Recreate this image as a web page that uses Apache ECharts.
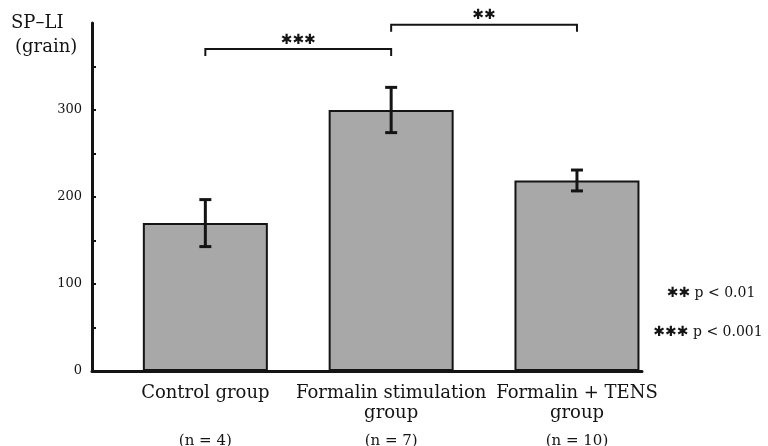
<!DOCTYPE html>
<html>
<head>
<meta charset="utf-8">
<script src="https://cdn.jsdelivr.net/npm/echarts@6/dist/echarts.min.js"></script>
<style>
html, body { margin: 0; padding: 0; background: #ffffff; }
#chart { width: 768px; height: 446px; }
</style>
</head>
<body>
<div id="chart"></div>
<script>
// ---- data ----
const categories = ['Control group', 'Formalin stimulation\ngroup', 'Formalin + TENS\ngroup'];
const sampleSizes = ['(n = 4)', '(n = 7)', '(n = 10)'];
const means = [170, 300, 219];
const errors = [27, 26, 12];
const yLabelValues = [0, 100, 200, 300];
const yTickValues = [0, 50, 100, 150, 200, 250, 300, 350];
const comparisons = [[0, 1, '✱✱✱'], [1, 2, '✱✱']];
const legendMarks = ['✱✱', '✱✱✱'];
const legendTexts = ['p < 0.01', 'p < 0.001'];
const axisName = ['SP–LI', '(grain)'];

// ---- layout ----
const X0 = 0.61;
const XMAX = 2.96;
const bracketLevels = [370, 398];
const bracketDrop = 8;
const INK = '#141414';
const SERIF = 'DejaVu Serif';
const STAR = 'DejaVu Sans';

const chart = echarts.init(document.getElementById('chart'));

const barData = means.map((v, i) => [i + X0, v]);
const errData = means.map((v, i) => [i + X0, v, errors[i]]);

function catLabel(v) {
  const i = Math.round(v - X0);
  if (i < 0 || i >= categories.length) return '';
  const lines = categories[i].split('\n');
  let s = lines.map(l => '{a|' + l + '}').join('\n');
  if (lines.length === 1) s += '\n{a| }';
  return s + '\n{b|' + sampleSizes[i] + '}';
}

const option = {
  animation: false,
  backgroundColor: '#ffffff',
  grid: { left: 92, right: 126, top: 23, bottom: 75, containLabel: false, outerBoundsMode: 'none' },
  xAxis: {
    type: 'value',
    min: 0,
    max: XMAX,
    axisLine: { show: true, lineStyle: { color: INK, width: 3 } },
    axisTick: { show: false },
    splitLine: { show: false },
    axisLabel: {
      customValues: means.map((v, i) => i + X0),
      margin: 12,
      formatter: catLabel,
      rich: {
        a: { fontFamily: SERIF, fontSize: 18, lineHeight: 20, color: INK },
        b: { fontFamily: SERIF, fontSize: 15, lineHeight: 36, color: INK }
      }
    }
  },
  yAxis: {
    type: 'value',
    min: 0,
    max: 400,
    axisLine: { show: true, lineStyle: { color: INK, width: 3 } },
    axisTick: { show: true, inside: true, length: 4, customValues: yTickValues, lineStyle: { color: INK, width: 2 } },
    splitLine: { show: false },
    axisLabel: { customValues: yLabelValues, margin: 10, fontFamily: SERIF, fontSize: 13, color: INK }
  },
  graphic: [
    { type: 'text', x: 11, y: 23, style: { text: axisName[0], font: '18px "DejaVu Serif"', fill: INK, textAlign: 'left', textVerticalAlign: 'middle' } },
    { type: 'text', x: 15, y: 47, style: { text: axisName[1], font: '18px "DejaVu Serif"', fill: INK, textAlign: 'left', textVerticalAlign: 'middle' } },
    { type: 'text', x: 711, y: 293, style: {
        text: '{s|' + legendMarks[0] + '}{p| ' + legendTexts[0] + '}',
        textAlign: 'center', textVerticalAlign: 'middle',
        rich: { s: { fontFamily: STAR, fontSize: 14, fill: INK, color: INK }, p: { fontFamily: SERIF, fontSize: 14, fill: INK, color: INK } }
      } },
    { type: 'text', x: 708, y: 332, style: {
        text: '{s|' + legendMarks[1] + '}{p| ' + legendTexts[1] + '}',
        textAlign: 'center', textVerticalAlign: 'middle',
        rich: { s: { fontFamily: STAR, fontSize: 14, fill: INK, color: INK }, p: { fontFamily: SERIF, fontSize: 14, fill: INK, color: INK } }
      } }
  ],
  series: [
    {
      type: 'bar',
      data: barData,
      barWidth: 125,
      itemStyle: { color: '#a8a8a8', borderColor: INK, borderWidth: 2 },
      z: 2
    },
    {
      type: 'custom',
      data: errData,
      z: 5,
      renderItem: function (params, api) {
        const x = api.value(0), m = api.value(1), e = api.value(2);
        const top = api.coord([x, m + e]);
        const bot = api.coord([x, m - e]);
        const w = 6;
        const st = { stroke: INK, lineWidth: 3 };
        return {
          type: 'group',
          children: [
            { type: 'line', shape: { x1: top[0], y1: top[1], x2: bot[0], y2: bot[1] }, style: st },
            { type: 'line', shape: { x1: top[0] - w, y1: top[1], x2: top[0] + w, y2: top[1] }, style: st },
            { type: 'line', shape: { x1: bot[0] - w, y1: bot[1], x2: bot[0] + w, y2: bot[1] }, style: st }
          ]
        };
      }
    },
    {
      type: 'custom',
      data: comparisons.map((c, i) => [i]),
      clip: false,
      z: 6,
      renderItem: function (params, api) {
        const c = comparisons[params.dataIndex];
        const lvl = bracketLevels[params.dataIndex];
        const a = api.coord([c[0] + X0, lvl]);
        const b = api.coord([c[1] + X0, lvl]);
        const ad = api.coord([c[0] + X0, lvl - bracketDrop]);
        const bd = api.coord([c[1] + X0, lvl - bracketDrop]);
        return {
          type: 'group',
          children: [
            { type: 'polyline', shape: { points: [ad, a, b, bd] }, style: { stroke: INK, lineWidth: 2, fill: null } },
            { type: 'text', x: (a[0] + b[0]) / 2, y: a[1] - 9, style: { text: c[2], font: '14px "DejaVu Sans"', fill: INK, textAlign: 'center', textVerticalAlign: 'middle' } }
          ]
        };
      }
    }
  ]
};

chart.setOption(option);
</script>
</body>
</html>
